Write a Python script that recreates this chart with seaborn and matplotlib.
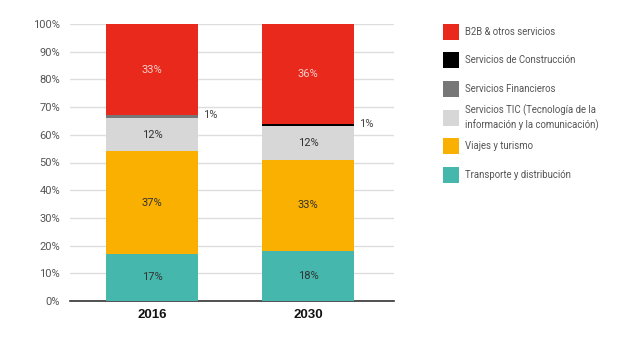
import matplotlib
matplotlib.use("Agg")
import matplotlib.pyplot as plt
from matplotlib.patches import Rectangle
import seaborn as sns
import pandas as pd
import numpy as np

years = ["2016", "2030"]
categories = ["Transporte y distribución", "Viajes y turismo",
              "Servicios TIC (Tecnología de la\ninformación y la comunicación)",
              "Servicios Financieros", "Servicios de Construcción",
              "B2B & otros servicios"]
transporte = [17, 18]
viajes = [37, 33]
tic = [12, 12]
financieros = [1, 0]
construccion = [0, 1]
b2b = [33, 36]
series = [transporte, viajes, tic, financieros, construccion, b2b]
colors = ["#45B7AC", "#F9B000", "#D7D7D7", "#777777", "#000000", "#E8291C"]
label_colors = ["#333333", "#333333", "#333333", "#333333", "#333333", "#F6D0CC"]
yticks = [0, 10, 20, 30, 40, 50, 60, 70, 80, 90, 100]

sns.set_theme(style="white")
plt.rcParams['font.family'] = ['Roboto', 'DejaVu Sans']

fig = plt.figure(figsize=(6.3, 3.47), dpi=100)
ax = fig.add_axes([70/630, 1-301/347, (394-70)/630, (301-24)/347])

bottom = np.zeros(len(years))
for vals, col in zip(series, colors):
    df = pd.DataFrame({"year": years, "val": vals})
    sns.barplot(data=df, x="year", y="val", color=col, width=0.59,
                bottom=bottom, ax=ax, saturation=1, linewidth=0, zorder=3)
    bottom = bottom + np.array(vals, dtype=float)

# labels
bottom = np.zeros(len(years))
for vals, lc in zip(series, label_colors):
    for i, v in enumerate(vals):
        if v == 0:
            continue
        if v >= 5:
            ax.text(i, bottom[i] + v/2, f"{v}%", ha="center", va="center",
                    fontsize=8, color=lc, zorder=5)
        else:
            ax.text(i + 0.33, bottom[i] + v, f"{v}%", ha="left", va="center",
                    fontsize=8, color="#444444", zorder=5)
    bottom = bottom + np.array(vals, dtype=float)

ax.set_xlim(-0.526, 1.551)
ax.set_ylim(0, 100)
ax.set_yticks(yticks)
ax.set_yticklabels([f"{t}%" for t in yticks], fontsize=8, color="#555555")
ax.tick_params(axis="y", length=0, pad=7)
ax.tick_params(axis="x", length=0, pad=6)
ax.set_xticks([0, 1])
ax.set_xticklabels(years, fontsize=9.5, fontweight="bold", color="#111111",
                   family=["Liberation Sans", "DejaVu Sans"])
ax.set_xlabel("")
ax.set_ylabel("")
ax.grid(axis="y", color="#DDDDDD", linewidth=1, zorder=0)
ax.set_axisbelow(True)
for s in ["top", "right", "left"]:
    ax.spines[s].set_visible(False)
ax.spines["bottom"].set_color("#333333")
ax.spines["bottom"].set_linewidth(1.2)

# legend (custom, top to bottom)
leg_items = list(zip(categories, colors))[::-1]
ycent = [31.7, 60, 89, 117.7, 146, 175]
for (name, col), yc in zip(leg_items, ycent):
    fig.patches.append(Rectangle((443/630, 1-(yc+8)/347), 16/630, 16/347,
                                 transform=fig.transFigure, color=col,
                                 linewidth=0))
    fig.text(465/630, 1-yc/347, name, ha="left", va="center", fontsize=6.9,
             color="#555555", linespacing=1.3)

fig.savefig("out.png", dpi=100)
